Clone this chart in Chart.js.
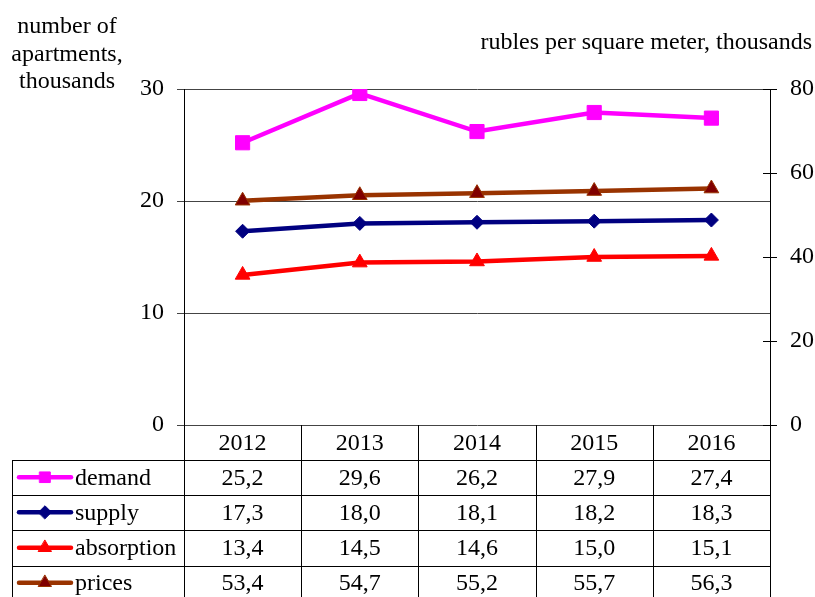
<!DOCTYPE html>
<html><head><meta charset="utf-8">
<script src="https://cdn.jsdelivr.net/npm/chart.js@4/dist/chart.umd.min.js"></script>
<style>html,body{margin:0;padding:0;background:#fff}canvas{display:block}</style>
</head><body>
<div style="width:815px;height:597px"><canvas id="c" width="815" height="597"></canvas></div>
<script>
const years = ['2012','2013','2014','2015','2016'];
const demand = [25.2,29.6,26.2,27.9,27.4];
const supply = [17.3,18.0,18.1,18.2,18.3];
const absorption = [13.4,14.5,14.6,15.0,15.1];
const prices = [53.4,54.7,55.2,55.7,56.3];
const seriesNames = ['demand','supply','absorption','prices'];
const leftTitle = ['number of','apartments,','thousands'];
const rightTitle = 'rubles per square meter, thousands';

const FONT = '"Liberation Serif", "Times New Roman", serif';
const FS = 24;
const styles = [
  {color:'#FF00FF', fill:'#FF00FF', shape:'rect', r:10, lr:7.5},
  {color:'#000080', fill:'#000080', shape:'rectRot', r:7, lr:6.5},
  {color:'#FF0000', fill:'#FF0000', shape:'triangle', r:8.5, lr:7.5},
  {color:'#993300', fill:'#800000', shape:'triangle', r:8.5, lr:7.5}
];
const seriesData = [demand, supply, absorption, prices];

function marker(ctx, shape, x, y, r, fill, stroke){
  ctx.save();
  ctx.fillStyle = fill; ctx.strokeStyle = stroke; ctx.lineWidth = 1;
  ctx.beginPath();
  if (shape === 'rect') {
    const s = Math.SQRT1_2 * r; ctx.rect(x - s, y - s, 2*s, 2*s);
  } else if (shape === 'rectRot') {
    ctx.moveTo(x - r, y); ctx.lineTo(x, y - r); ctx.lineTo(x + r, y); ctx.lineTo(x, y + r); ctx.closePath();
  } else {
    ctx.moveTo(x, y - r); ctx.lineTo(x + r*0.866, y + r/2); ctx.lineTo(x - r*0.866, y + r/2); ctx.closePath();
  }
  ctx.fill(); ctx.stroke();
  ctx.restore();
}

const fmt = v => v.toFixed(1).replace('.', ',');

const tablePlugin = {
  id: 'tablePlugin',
  afterDraw(chart) {
    const ctx = chart.ctx;
    const xs = chart.scales.x, y1 = chart.scales.y1;
    const L = chart.chartArea.left, R = chart.chartArea.right, T = chart.chartArea.bottom;
    const cw = (R - L) / years.length;
    const tableLeft = 12, bottom = 597;
    const rowTops = [T, T + 35, T + 69.5, T + 105, T + 140.5];
    ctx.save();
    // right inner ticks
    ctx.strokeStyle = '#000'; ctx.lineWidth = 1;
    [0,20,40,60,80].forEach(v => {
      const yy = Math.round(y1.getPixelForValue(v)) + 0.5;
      ctx.beginPath(); ctx.moveTo(R - 7, yy); ctx.lineTo(R, yy); ctx.stroke();
    });
    // table lines
    ctx.beginPath();
    for (let i = 1; i < rowTops.length; i++) {
      const yy = Math.round(rowTops[i]) + 0.5;
      ctx.moveTo(tableLeft, yy); ctx.lineTo(R, yy);
    }
    ctx.moveTo(tableLeft + 0.5, Math.round(rowTops[1]) + 0.5); ctx.lineTo(tableLeft + 0.5, bottom);
    for (let i = 0; i <= years.length; i++) {
      const xx = Math.round(L + i * cw) + 0.5;
      ctx.moveTo(xx, T); ctx.lineTo(xx, bottom);
    }
    ctx.stroke();
    // texts
    ctx.fillStyle = '#000';
    ctx.font = FS + 'px ' + FONT;
    ctx.textAlign = 'center'; ctx.textBaseline = 'middle';
    years.forEach((yr, i) => {
      ctx.fillText(yr, xs.getPixelForValue(i), (rowTops[0] + rowTops[1]) / 2 + 1);
    });
    seriesData.forEach((arr, s) => {
      const top = rowTops[s + 1];
      const bot = s + 2 < rowTops.length ? rowTops[s + 2] : 600;
      const cy = (top + bot) / 2 + 1;
      ctx.textAlign = 'center';
      arr.forEach((v, i) => ctx.fillText(fmt(v), xs.getPixelForValue(i), cy));
      // legend key
      const st = styles[s];
      ctx.strokeStyle = st.color; ctx.lineWidth = 4.5; ctx.lineCap = 'round';
      ctx.beginPath(); ctx.moveTo(19, cy - 1); ctx.lineTo(71, cy - 1); ctx.stroke();
      marker(ctx, st.shape, 45, cy - 1, st.lr, st.fill, st.color);
      ctx.fillStyle = '#000';
      ctx.textAlign = 'left';
      ctx.fillText(seriesNames[s], 75, cy);
    });
    // titles
    ctx.textBaseline = 'alphabetic';
    ctx.textAlign = 'center';
    leftTitle.forEach((t, i) => ctx.fillText(t, 67, 33 + i * 27.5));
    ctx.textAlign = 'right';
    ctx.fillText(rightTitle, 812, 49);
    ctx.restore();
  }
};

const datasets = seriesData.map((arr, s) => ({
  label: seriesNames[s],
  data: arr,
  yAxisID: s === 3 ? 'y1' : 'y',
  borderColor: styles[s].color,
  backgroundColor: styles[s].fill,
  pointBackgroundColor: styles[s].fill,
  pointBorderColor: styles[s].color,
  pointBorderWidth: 1,
  borderWidth: 4.5,
  pointStyle: styles[s].shape,
  pointRadius: styles[s].r,
  pointHoverRadius: styles[s].r,
  tension: 0,
  fill: false
}));

new Chart(document.getElementById('c'), {
  type: 'line',
  data: { labels: years, datasets },
  options: {
    responsive: false,
    animation: false,
    devicePixelRatio: 1,
    layout: { padding: { top: 89, left: 0, right: 0, bottom: 0 } },
    plugins: { legend: { display: false }, tooltip: { enabled: false }, title: { display: false } },
    scales: {
      x: {
        type: 'category', offset: true,
        grid: { display: false }, border: { display: false },
        ticks: { display: false },
        afterFit(sc) { sc.height = 172; }
      },
      y: {
        position: 'left', min: 0, max: 30,
        ticks: { stepSize: 10, color: '#000', font: { family: FONT, size: FS }, padding: 13 },
        grid: { color: '#444', lineWidth: 1, tickLength: 7, drawTicks: true },
        border: { display: true, color: '#000', width: 1 },
        afterFit(sc) { sc.width = 184; }
      },
      y1: {
        position: 'right', min: 0, max: 80,
        ticks: { stepSize: 20, color: '#000', font: { family: FONT, size: FS }, padding: 13 },
        grid: { drawOnChartArea: false, color: '#000', tickLength: 7 },
        border: { display: true, color: '#000', width: 1 },
        afterFit(sc) { sc.width = 45; }
      }
    }
  },
  plugins: [tablePlugin]
});
</script>
</body></html>
